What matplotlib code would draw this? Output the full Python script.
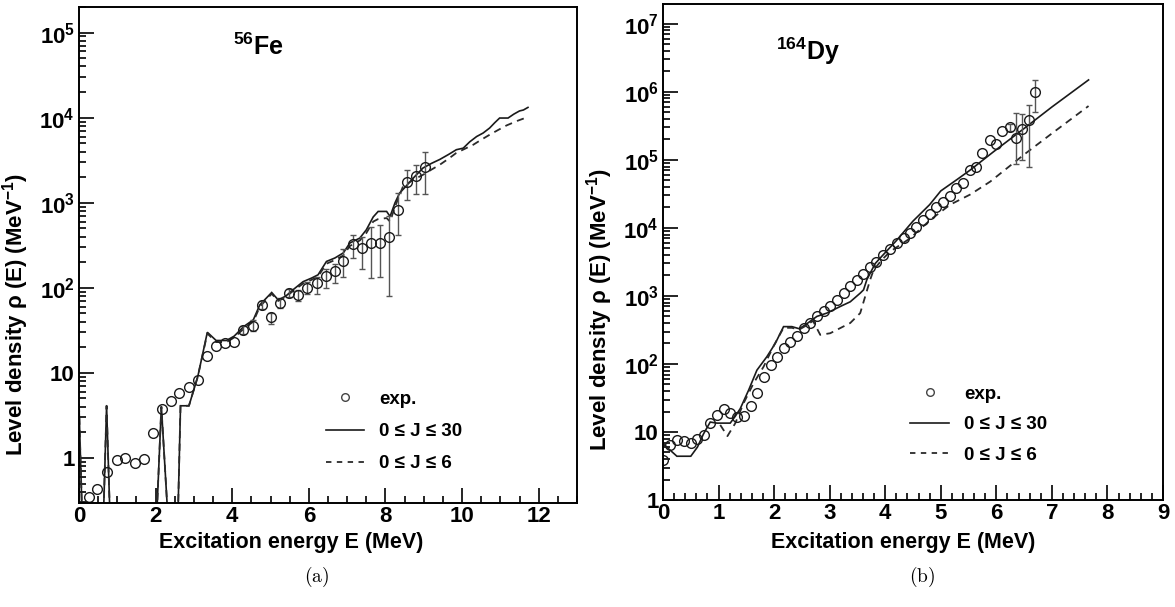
import numpy as np
import matplotlib
matplotlib.use("Agg")
import matplotlib.pyplot as plt
from matplotlib.ticker import LogLocator, MultipleLocator, FuncFormatter, NullFormatter
from matplotlib.lines import Line2D

plt.rcParams['font.family'] = ['Liberation Sans', 'DejaVu Sans']
plt.rcParams['font.weight'] = 'bold'
plt.rcParams['mathtext.fontset'] = 'custom'
plt.rcParams['mathtext.rm'] = 'Liberation Sans:bold'
plt.rcParams['mathtext.bf'] = 'Liberation Sans:bold'
plt.rcParams['mathtext.it'] = 'Liberation Sans:bold'

# ---------------- 56Fe data ----------------
fe_exp_E = [0.26, 0.48, 0.72, 0.98, 1.21, 1.45, 1.70, 1.92, 2.16, 2.39, 2.62, 2.87,
            3.10, 3.35, 3.58, 3.81, 4.05, 4.29, 4.53, 4.77, 5.01, 5.24, 5.48, 5.72,
            5.96, 6.20, 6.44, 6.67, 6.90, 7.14, 7.38, 7.62, 7.85, 8.10, 8.34, 8.57,
            8.79, 9.04]
fe_exp_rho = [0.35, 0.43, 0.69, 0.95, 1.0, 0.88, 0.97, 1.97, 3.8, 4.7, 5.8, 6.8,
              8.3, 15.8, 20.8, 22.7, 23, 32, 36, 62, 45, 66, 88, 82,
              100, 113, 136, 157, 208, 330, 294, 333, 336, 394, 830, 1760,
              2060, 2640]
fe_exp_lo = [0.35, 0.43, 0.69, 0.95, 1.0, 0.88, 0.97, 1.97, 3.8, 4.7, 5.8, 6.8,
             8.3, 15.8, 20.8, 22.7, 23, 29, 31, 56, 38, 58, 78, 70,
             85, 85, 100, 113, 135, 224, 166, 130, 135, 80, 420, 1085,
             1270, 1270]
fe_exp_hi = [0.35, 0.43, 0.69, 0.95, 1.0, 0.88, 0.97, 1.97, 3.8, 4.7, 5.8, 6.8,
             8.3, 15.8, 20.8, 22.7, 23, 36, 42, 70, 50, 75, 98, 95,
             118, 135, 165, 190, 285, 420, 400, 525, 550, 690, 1300, 2400,
             2800, 3900]

fe_J30_E = [0.0, 0.12, 0.60, 0.72, 0.85, 1.97, 2.15, 2.40, 2.55, 2.65, 2.87, 3.10,
            3.35, 3.58, 3.85, 4.05, 4.30, 4.55, 4.72, 5.03, 5.20, 5.40, 5.59, 5.85,
            6.07, 6.24, 6.46, 6.68, 6.90, 7.07, 7.33, 7.50, 7.68, 7.81, 8.03, 8.12,
            8.25, 8.37, 8.50, 8.75, 8.98, 9.20, 9.42, 9.65, 9.85, 10.03, 10.20, 10.38,
            10.55, 10.72, 10.85, 10.98, 11.20, 11.35, 11.50, 11.60, 11.72]
fe_J30_rho = [4.2, 0.05, 0.05, 4.1, 0.05, 0.05, 4.0, 0.05, 0.05, 4.1, 4.1, 9.0,
              30, 24, 24, 27, 35, 42, 63, 88, 72, 80, 95, 118,
              130, 142, 204, 224, 257, 336, 384, 480, 680, 790, 790, 690,
              1000, 1300, 1500, 2000, 2560, 2900, 3230, 3700, 4200, 4380, 5200, 6000,
              6600, 7560, 8700, 9900, 9900, 11000, 12000, 12300, 13200]

fe_J6_E = [0.0, 0.12, 0.60, 0.72, 0.85, 1.97, 2.15, 2.40, 2.55, 2.65, 2.87, 3.10,
           3.35, 3.58, 3.85, 4.05, 4.30, 4.55, 4.72, 5.03, 5.20, 5.40, 5.59, 5.85,
           6.07, 6.24, 6.46, 6.68, 6.90, 7.07, 7.33, 7.50, 7.68, 7.80, 8.03, 8.12,
           8.25, 8.46, 8.72, 8.98, 9.20, 9.42, 9.65, 9.85, 10.07, 10.29, 10.50, 10.72,
           10.95, 11.16, 11.45, 11.72]
fe_J6_rho = [4.2, 0.05, 0.05, 4.1, 0.05, 0.05, 4.0, 0.05, 0.05, 4.1, 4.1, 9.0,
             29, 23, 23, 26, 33, 40, 60, 85, 70, 78, 92, 112,
             124, 136, 192, 212, 240, 310, 360, 440, 600, 640, 660, 600,
             900, 1560, 1850, 2130, 2450, 2800, 3300, 3850, 4300, 4800, 5500, 6300,
             7200, 8100, 9200, 10200]

# ---------------- 164Dy data ----------------
dy_exp_E = [0.00, 0.13, 0.25, 0.38, 0.50, 0.62, 0.74, 0.85, 0.97, 1.09, 1.21, 1.34,
            1.46, 1.58, 1.70, 1.81, 1.94, 2.06, 2.18, 2.29, 2.41, 2.53, 2.65, 2.77,
            2.89, 3.01, 3.13, 3.25, 3.37, 3.49, 3.60, 3.72, 3.84, 3.96, 4.09, 4.22,
            4.34, 4.45, 4.56, 4.68, 4.80, 4.92, 5.04, 5.16, 5.28, 5.40, 5.52, 5.63,
            5.75, 5.88, 6.00, 6.10, 6.24, 6.36, 6.46, 6.58, 6.70]
dy_exp_rho = [3.9, 6.4, 7.6, 7.4, 6.8, 7.8, 9, 13.4, 18, 21.8, 19.2, 16.8,
              17.2, 24, 38, 65, 97, 128, 170, 213, 258, 334, 407, 500,
              600, 700, 870, 1100, 1380, 1690, 2100, 2640, 3180, 4000, 4880, 6060,
              7050, 8350, 10400, 13100, 16100, 20000, 24300, 29400, 38400, 45400, 72000, 79700,
              125000, 193000, 173000, 262000, 302000, 208000, 282000, 380000, 980000]
dy_exp_lo = list(dy_exp_rho[:52]) + [270000, 87000, 100000, 80000, 500000]
dy_exp_hi = list(dy_exp_rho[:52]) + [340000, 490000, 470000, 640000, 1490000]

dy_J30_E = [0.02, 0.25, 0.50, 0.62, 0.73, 0.85, 0.97, 1.21, 1.30, 1.39, 1.54, 1.69,
            1.87, 2.02, 2.17, 2.32, 2.45, 2.56, 2.77, 2.95, 3.19, 3.37, 3.55, 3.61,
            3.67, 3.82, 3.96, 4.20, 4.50, 4.80, 5.00, 5.30, 5.53, 5.95, 6.50, 7.00, 7.66]
dy_J30_rho = [6.5, 4.4, 4.4, 6.0, 9.4, 14, 13.5, 13.5, 17, 22, 41, 81,
              128, 200, 354, 354, 330, 375, 500, 560, 700, 820, 1100, 1230,
              1740, 3000, 4000, 6500, 12600, 22000, 35000, 52000, 71000, 132000, 290000, 600000, 1500000]

dy_J6_E = [1.03, 1.16, 1.30, 1.45, 1.63, 1.81, 2.00, 2.17, 2.32, 2.45, 2.56, 2.70,
           2.77, 2.83, 3.01, 3.20, 3.37, 3.55, 3.73, 3.79, 3.94, 4.09, 4.45, 4.81,
           5.17, 5.53, 5.89, 6.50, 7.00, 7.66]
dy_J6_rho = [12.7, 8.7, 13.4, 26.5, 52, 91, 190, 340, 340, 320, 360, 430,
             334, 268, 283, 340, 400, 560, 1740, 2400, 3400, 4500, 7050, 13100,
             22000, 31000, 48000, 120000, 245000, 620000]

fig = plt.figure(figsize=(11.75, 6.07), dpi=100)

ax1 = fig.add_axes([79/1175, 1-503/607, (577-79)/1175, (503-7)/607])
ax2 = fig.add_axes([663/1175, 1-500/607, (1163-663)/1175, (500-4)/607])

def logfmt(v, pos):
    e = int(round(np.log10(v)))
    if e == 0:
        return '1'
    if e == 1:
        return '10'
    return r'$\mathbf{10^{%d}}$' % e

ecol = '#555555'
panels = [
    (ax1, fe_exp_E, fe_exp_rho, fe_exp_lo, fe_exp_hi, fe_J30_E, fe_J30_rho, fe_J6_E, fe_J6_rho,
     (0.495, 0.226), 0.80, (0.426, -0.058), (-0.097, 0.379)),
    (ax2, dy_exp_E, dy_exp_rho, dy_exp_lo, dy_exp_hi, dy_J30_E, dy_J30_rho, dy_J6_E, dy_J6_rho,
     (0.495, 0.231), 0.72, (0.48, -0.064), (-0.095, 0.383)),
]
for ax, E, rho, lo, hi, E30, r30, E6, r6, leg_anchor, lspace, xl, yl in panels:
    E_a = np.array(E, float)
    rho_a = np.array(rho, float)
    lo_a = np.array(lo, float)
    hi_a = np.array(hi, float)
    has_err = (lo_a < rho_a) | (hi_a > rho_a)
    ax.plot(E30, r30, color='#1a1a1a', lw=1.2, solid_joinstyle='miter')
    ax.plot(E6, r6, color='#2a2a2a', lw=1.3, linestyle=(0, (4, 3)))
    ax.errorbar(E_a[has_err], rho_a[has_err],
                yerr=[rho_a[has_err] - lo_a[has_err], hi_a[has_err] - rho_a[has_err]],
                fmt='none', ecolor=ecol, elinewidth=1.0, capsize=2.0, capthick=1.0)
    ax.plot(E_a, rho_a, 'o', ms=7, mfc='none', mec='#1a1a1a', mew=1.0)
    ax.set_yscale('log')
    ax.yaxis.set_major_locator(LogLocator(base=10, numticks=20))
    ax.yaxis.set_minor_locator(LogLocator(base=10, subs=np.arange(2, 10), numticks=20))
    ax.yaxis.set_major_formatter(FuncFormatter(logfmt))
    ax.yaxis.set_minor_formatter(NullFormatter())
    ax.tick_params(which='both', direction='in', top=False, right=False, width=1.2)
    ax.tick_params(which='major', length=11, labelsize=16, pad=3)
    ax.tick_params(which='minor', length=5)
    ax.tick_params(axis='x', which='major', pad=2)
    for s in ax.spines.values():
        s.set_linewidth(1.4)
    ax.set_xlabel('Excitation energy E (MeV)', fontsize=15.5, fontweight='bold')
    ax.set_ylabel(r'Level density ρ (E) (MeV$^{-1}$)', fontsize=16, fontweight='bold')
    ax.xaxis.set_label_coords(*xl)
    ax.yaxis.set_label_coords(*yl)
    handles = [Line2D([], [], marker='o', ls='none', ms=5.5, mfc='none', mec='#444444', mew=1.0),
               Line2D([], [], color='#1a1a1a', lw=1.2),
               Line2D([], [], color='#2a2a2a', lw=1.3, linestyle=(0, (3, 3)))]
    labels = ['exp.', r'0 ≤ J ≤ 30', r'0 ≤ J ≤ 6']
    ax.legend(handles, labels, loc='upper left', bbox_to_anchor=leg_anchor,
              frameon=False, borderpad=0, borderaxespad=0, handlelength=2.05,
              handletextpad=0.8, labelspacing=lspace, prop={'size': 13.5, 'weight': 'bold'})

ax1.set_xlim(0, 13)
ax1.set_ylim(0.295, 2.0e5)
ax1.xaxis.set_major_locator(MultipleLocator(2))
ax1.xaxis.set_minor_locator(MultipleLocator(0.5))
ax1.text(0.36, 0.92, r'$^{56}$Fe', transform=ax1.transAxes, fontsize=18,
         fontweight='bold', ha='center', va='center')

ax2.set_xlim(0, 9)
ax2.set_ylim(1, 1.96e7)
ax2.xaxis.set_major_locator(MultipleLocator(1))
ax2.xaxis.set_minor_locator(MultipleLocator(0.2))
ax2.text(0.29, 0.905, r'$^{164}$Dy', transform=ax2.transAxes, fontsize=18,
         fontweight='bold', ha='center', va='center')

fig.text(317/1175, 1-577/607, r'$\mathrm{(a)}$', math_fontfamily='cm', fontsize=14,
         ha='center', va='center')
fig.text(922/1175, 1-577/607, r'$\mathrm{(b)}$', math_fontfamily='cm', fontsize=14,
         ha='center', va='center')

fig.savefig('out.png', dpi=100)
